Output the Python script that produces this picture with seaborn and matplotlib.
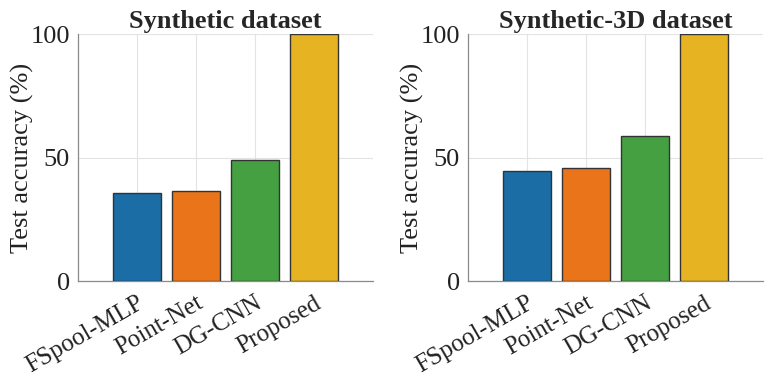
import matplotlib
matplotlib.use("Agg", force=True)
import matplotlib.pyplot as plt
import pandas as pd
import seaborn as sns

methods = ["FSpool-MLP", "Point-Net", "DG-CNN", "Proposed"]
acc_synthetic = [35.7, 36.4, 48.9, 100.0]
acc_synthetic_3d = [44.5, 45.9, 58.8, 100.0]
titles = ["Synthetic dataset", "Synthetic-3D dataset"]
colors = ["#1a6da5", "#ea741a", "#45a042", "#e6b422"]

sns.set_theme(style="white")
plt.rcParams["font.family"] = ["Liberation Serif", "DejaVu Serif"]

fig = plt.figure(figsize=(7.68, 3.8), dpi=100)
positions = [[0.1016, 0.2605, 0.3841, 0.65], [0.6094, 0.2605, 0.3841, 0.65]]

for pos, title, vals in zip(positions, titles, [acc_synthetic, acc_synthetic_3d]):
    ax = fig.add_axes(pos)
    df = pd.DataFrame({"method": methods, "acc": vals})
    sns.barplot(data=df, x="method", y="acc", hue="method", palette=colors,
                saturation=1, width=0.8, edgecolor="#333333", linewidth=1.0,
                legend=False, ax=ax, zorder=3)
    ax.set_xlim(-1, 4)
    ax.set_ylim(0, 100)
    ax.set_yticks([0, 50, 100])
    ax.grid(True, color="#e3e3e3", linewidth=0.8, zorder=0)
    ax.set_axisbelow(True)
    for s in ["top", "right"]:
        ax.spines[s].set_visible(False)
    for s in ["left", "bottom"]:
        ax.spines[s].set_color("#8a8a8a")
        ax.spines[s].set_linewidth(0.9)
    ax.tick_params(axis="y", length=0, labelsize=19, colors="#222222", pad=6)
    ax.tick_params(axis="x", length=0, labelsize=18, colors="#222222", pad=8)
    for lbl in ax.get_xticklabels():
        lbl.set_rotation(30)
        lbl.set_ha("right")
        lbl.set_rotation_mode("anchor")
    ax.set_xlabel("")
    ax.set_ylabel("Test accuracy (%)", fontsize=19, color="#222222", labelpad=-3)
    ax.set_title(title, fontsize=19, fontweight="bold", pad=4)

fig.savefig("out.png", dpi=100)
